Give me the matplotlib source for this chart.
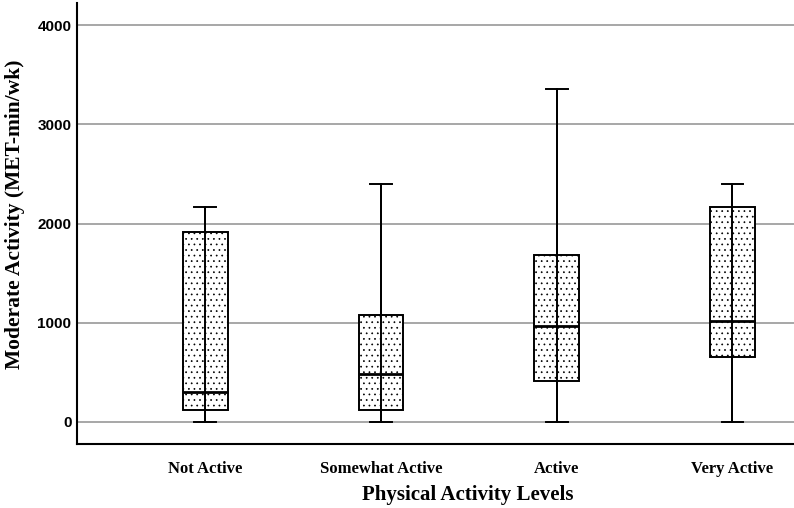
import matplotlib.pyplot as plt

categories = ["Not Active", "Somewhat Active", "Active", "Very Active"]
whisker_low = [0, 0, 0, 0]
q1 = [121, 120, 413, 655]
median = [299, 484, 968, 1018]
q3 = [1918, 1080, 1680, 2167]
whisker_high = [2164, 2400, 3360, 2400]
positions = [1, 2, 3, 4]

plt.rcParams['hatch.linewidth'] = 0.5
plt.rcParams['hatch.color'] = '#222222'
fig = plt.figure(figsize=(7.94, 5.08), dpi=100)
ax = fig.add_axes([77 / 794, 64 / 508, 717 / 794, 441 / 508])

stats = []
for i, name in enumerate(categories):
    stats.append(dict(label=name, whislo=whisker_low[i], q1=q1[i], med=median[i],
                      q3=q3[i], whishi=whisker_high[i], fliers=[]))

ax.set_axisbelow(True)
ax.yaxis.grid(True, color='#a0a0a0', linewidth=1.3)
bp = ax.bxp(stats, positions=positions, widths=0.254, patch_artist=True,
            showfliers=False,
            boxprops=dict(facecolor='white', edgecolor='black', linewidth=1.4, hatch='...'),
            medianprops=dict(color='black', linewidth=2.0),
            whiskerprops=dict(color='black', linewidth=1.4),
            capprops=dict(color='black', linewidth=1.4),
            capwidths=0.125)
# SPSS draws the whisker straight through the box
ax.vlines(positions, whisker_low, whisker_high, color='black', linewidth=1.4, zorder=4)

ax.set_xlim(0.27, 4.35)
ax.set_ylim(-222, 4222)
ax.set_yticks([0, 1000, 2000, 3000, 4000])
ax.tick_params(axis='both', length=0)
ax.tick_params(axis='x', pad=12)
ax.tick_params(axis='y', pad=4)
for lab in ax.get_yticklabels():
    lab.set_fontfamily('Liberation Sans')
    lab.set_fontweight('bold')
    lab.set_fontsize(11)
ax.set_xticklabels(categories, fontfamily='Liberation Serif', fontweight='bold', fontsize=12)

for s in ['top', 'right']:
    ax.spines[s].set_visible(False)
for s in ['left', 'bottom']:
    ax.spines[s].set_linewidth(1.5)

ax.set_xlabel("Physical Activity Levels", fontfamily='Liberation Serif',
              fontweight='bold', fontsize=15)
ax.xaxis.set_label_coords((468 - 77) / 717, -0.092)
ax.set_ylabel("Moderate Activity (MET-min/wk)", fontfamily='Liberation Serif',
              fontweight='bold', fontsize=15.5)
ax.yaxis.set_label_coords(-0.072, 0.52)

fig.savefig("out.png", dpi=100)
